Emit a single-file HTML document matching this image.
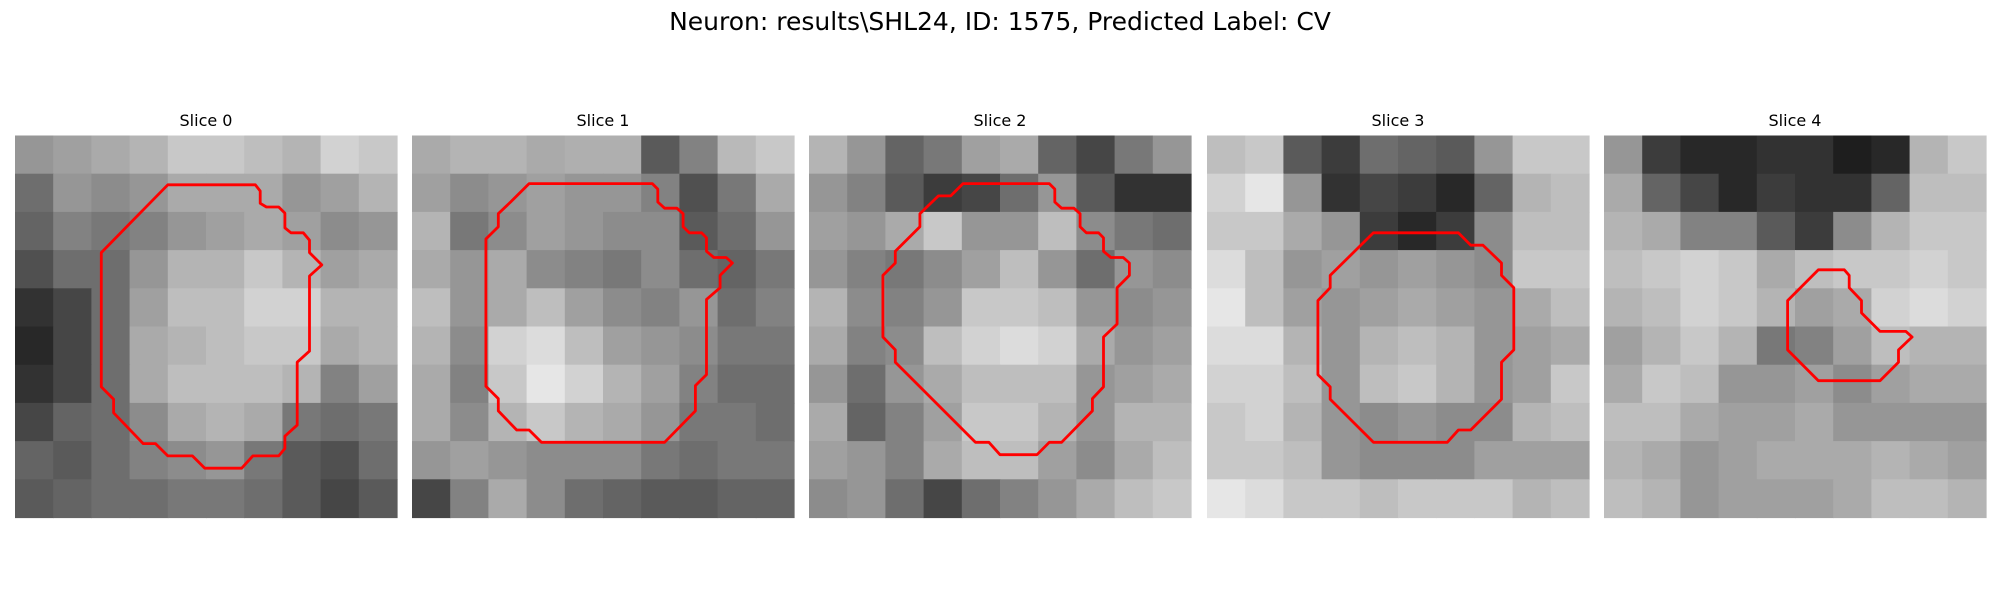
<!DOCTYPE html>
<html><head><meta charset="utf-8">
<style>
html,body{margin:0;padding:0;background:#fff;width:2000px;height:600px;overflow:hidden}
svg{display:block}
text{font-family:"DejaVu Sans","Liberation Sans",sans-serif;fill:#000}
</style></head>
<body>
<svg id="fig" width="2000" height="600" viewBox="0 0 2000 600" xmlns="http://www.w3.org/2000/svg">
<text x="1000" y="30" text-anchor="middle" font-size="25">Neuron: results\SHL24, ID: 1575, Predicted Label: CV</text>
</svg>
<script>
const sliceTitles = ["Slice 0","Slice 1","Slice 2","Slice 3","Slice 4"];
const img0 = [
[150,160,170,180,200,200,190,180,210,200],
[110,150,140,150,170,170,170,150,160,180],
[100,130,120,130,150,160,170,160,140,150],
[80,110,110,150,180,180,200,180,160,170],
[50,70,110,160,190,190,210,210,180,180],
[40,70,110,170,180,190,200,200,170,180],
[50,70,110,170,190,190,190,180,130,160],
[70,100,110,140,170,180,170,120,110,120],
[100,90,110,130,140,150,120,90,80,110],
[90,100,110,110,120,120,110,90,70,90]];
const img1 = [
[170,180,180,170,175,175,90,130,185,200],
[160,140,150,160,150,150,130,80,120,170],
[180,120,140,160,150,140,140,90,110,150],
[170,150,170,140,130,120,140,110,100,120],
[190,150,170,190,160,140,130,150,110,130],
[180,140,210,220,190,160,150,140,120,120],
[170,130,200,230,210,180,160,130,110,110],
[170,140,180,200,180,170,150,120,120,110],
[150,160,150,140,140,140,120,110,120,120],
[70,130,170,140,110,100,90,90,100,100]];
const img2 = [
[180,150,100,120,160,170,100,70,120,150],
[150,130,90,60,70,110,150,90,50,50],
[160,150,170,200,150,150,190,140,120,110],
[150,130,120,140,160,190,150,110,150,140],
[180,140,130,150,200,200,190,150,140,150],
[170,130,140,190,210,220,210,170,150,160],
[150,110,150,170,190,190,190,150,160,170],
[170,100,130,160,200,200,180,150,180,180],
[160,150,130,170,190,190,160,140,170,190],
[140,150,110,70,110,130,150,170,190,200]];
const img3 = [
[190,200,90,60,110,100,90,150,200,200],
[210,230,150,50,70,60,40,100,180,190],
[200,200,170,150,60,40,60,140,190,190],
[220,190,150,160,150,160,150,140,200,200],
[230,190,160,150,160,170,160,150,170,190],
[220,220,180,150,180,190,180,150,160,170],
[210,210,190,150,190,200,180,150,160,200],
[200,210,180,150,140,150,140,140,180,190],
[200,200,190,150,140,140,140,160,160,160],
[230,220,200,200,190,200,200,200,180,190]];
const img4 = [
[150,60,40,40,50,50,30,40,180,200],
[170,100,70,40,60,50,50,100,190,190],
[180,170,130,130,90,60,140,180,200,200],
[190,200,210,200,170,190,200,200,210,200],
[180,190,210,200,180,160,170,210,220,210],
[160,180,200,180,120,130,160,190,180,180],
[170,200,190,150,150,160,140,160,170,170],
[190,190,170,160,160,170,150,150,150,150],
[180,170,150,160,170,170,170,180,170,160],
[190,180,150,160,160,160,170,190,190,180]];
const contour0 = [[12.4,4],[19.5,4],[19.9,4.5],[19.9,5.5],[20.4,5.8],[21.4,5.8],[21.9,6.3],[21.9,7.5],[22.4,7.9],[23.4,7.9],[23.9,8.5],[23.9,9.5],[24.9,10.5],[23.9,11.4],[23.9,17.5],[22.9,18.4],[22.9,23.5],[21.9,24.4],[21.9,25.4],[21.4,26],[19.3,26],[18.4,27],[15.4,27],[14.4,26],[12.4,26],[11.4,25],[10.4,25],[8,22.5],[8,21.4],[7,20.4],[7,9.5]];
const contour1 = [[9.5,3.9],[19.5,3.9],[19.95,4.35],[19.95,5.4],[20.5,5.9],[21.5,5.9],[22,6.35],[22,7.4],[22.5,7.9],[23.5,7.9],[23.9,8.3],[23.9,9.4],[24.5,9.9],[25.5,9.9],[26,10.35],[25,11.35],[25,12.35],[23.9,13.3],[23.9,19.4],[23,20.3],[23,22.35],[20.5,24.9],[10.5,24.9],[9.5,23.9],[8.5,23.9],[7,22.35],[7,21.35],[6,20.35],[6,8.4],[7,7.4],[7,6.35],[8,5.4]];
const contour2 = [[12.5,3.9],[19.5,3.9],[19.95,4.35],[19.95,5.4],[20.5,5.9],[21.5,5.9],[22,6.35],[22,7.4],[22.5,7.9],[23.5,7.9],[23.9,8.3],[23.9,9.4],[24.5,9.9],[25.5,9.9],[26,10.35],[26,11.35],[25,12.35],[25,15.3],[23.9,16.35],[23.9,20.4],[23,21.35],[23,22.35],[20.5,24.9],[19.5,24.9],[18.5,25.9],[15.5,25.9],[14.6,24.9],[13.5,24.9],[7,18.4],[7,17.4],[6,16.35],[6,11.35],[7,10.35],[7,9.4],[9,7.4],[9,6.35],[10.5,4.9],[11.5,4.9]];
const contour3 = [[13.5,7.9],[20.4,7.9],[21.4,8.9],[22.4,8.9],[23.9,10.35],[23.9,11.35],[24.9,12.35],[24.9,17.4],[23.9,18.4],[23.9,21.4],[21.4,23.9],[20.4,23.9],[19.5,24.9],[13.5,24.9],[10,21.4],[10,20.4],[9,19.4],[9,13.4],[10,12.35],[10,11.35]];
const contour4 = [[17.4,10.9],[19.5,10.9],[19.9,11.35],[19.9,12.35],[20.9,13.4],[20.9,14.4],[22.4,15.9],[24.5,15.9],[25,16.35],[23.9,17.4],[23.9,18.4],[22.4,19.9],[17.4,19.9],[14.9,17.4],[14.9,13.4]];

const images=[img0,img1,img2,img3,img4];
const contours=[contour0,contour1,contour2,contour3,contour4];
const panelX=[15,412,809,1207,1604], panelY=135.5, panelS=382, grid=31;
const NS="http://www.w3.org/2000/svg";
const fig=document.getElementById('fig');
images.forEach((img,p)=>{
  const g=document.createElementNS(NS,'g');
  
  
  fig.appendChild(g);
  const t=document.createElementNS(NS,'text');
  
  
  t.setAttribute('x',panelX[p]+panelS/2);t.setAttribute('y',126);
  t.setAttribute('text-anchor','middle');t.setAttribute('font-size','16');
  t.textContent=sliceTitles[p];g.appendChild(t);
  const n=img.length, cs=panelS/n;
  img.forEach((row,r)=>row.forEach((v,c)=>{
    const rc=document.createElementNS(NS,'rect');
    
    
    rc.setAttribute('x',panelX[p]+c*cs);rc.setAttribute('y',panelY+r*cs);
    rc.setAttribute('width',cs+0.6);rc.setAttribute('height',cs+0.6);
    rc.setAttribute('fill','rgb('+v+','+v+','+v+')');
    g.appendChild(rc);
  }));
  const k=panelS/grid;
  const pts=contours[p].map(q=>(panelX[p]+q[0]*k).toFixed(1)+','+(panelY+q[1]*k).toFixed(1)).join(' ');
  const pg=document.createElementNS(NS,'polygon');
  
  
  pg.setAttribute('points',pts);pg.setAttribute('fill','none');
  pg.setAttribute('stroke','#ff0000');pg.setAttribute('stroke-width','2.8');
  pg.setAttribute('stroke-linejoin','round');
  g.appendChild(pg);
});
</script>
</body></html>
